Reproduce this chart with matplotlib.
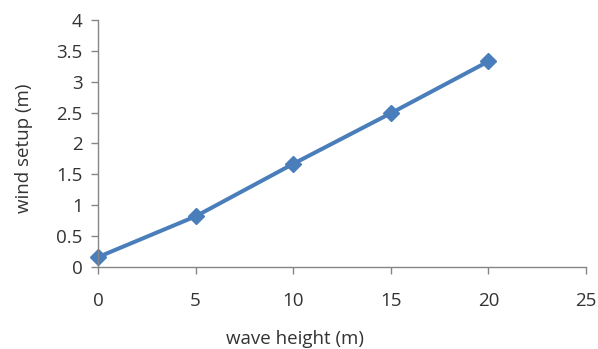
import matplotlib
matplotlib.use("Agg")
import matplotlib.pyplot as plt

# wave height vs wind setup
wave_height = [0, 5, 10, 15, 20]
wind_setup = [0.16, 0.82, 1.67, 2.49, 3.33]

x_ticks = [0, 5, 10, 15, 20, 25]
y_ticks = [0, 0.5, 1, 1.5, 2, 2.5, 3, 3.5, 4]
y_tick_labels = ["0", "0.5", "1", "1.5", "2", "2.5", "3", "3.5", "4"]

plt.rcParams["font.family"] = ["Open Sans", "DejaVu Sans"]

fig = plt.figure(figsize=(5.98, 3.49), dpi=100)
ax = fig.add_axes([0.1639, 0.2350, 0.816, 0.7077])

ax.plot(wave_height, wind_setup, color="#4a7ebb", linewidth=2.9,
        marker="D", markersize=8.5, clip_on=False)

ax.set_xlim(0, 25)
ax.set_ylim(0, 4)
ax.set_xticks(x_ticks)
ax.set_yticks(y_ticks)
ax.set_yticklabels(y_tick_labels)

for side in ["top", "right"]:
    ax.spines[side].set_visible(False)
for side in ["left", "bottom"]:
    ax.spines[side].set_color("#868686")
    ax.spines[side].set_linewidth(1)

ax.tick_params(direction="out", length=5, width=1, color="#868686",
               labelsize=13.5, labelcolor="#333333")
ax.tick_params(axis="x", pad=13)
ax.tick_params(axis="y", pad=6)

ax.set_xlabel("wave height (m)", fontsize=13.5, color="#333333")
ax.set_ylabel("wind setup (m)", fontsize=13.5, color="#333333")
ax.xaxis.set_label_coords(0.404, -0.256)
ax.yaxis.set_label_coords(-0.134, 0.48)

fig.savefig("out.png", dpi=100)
